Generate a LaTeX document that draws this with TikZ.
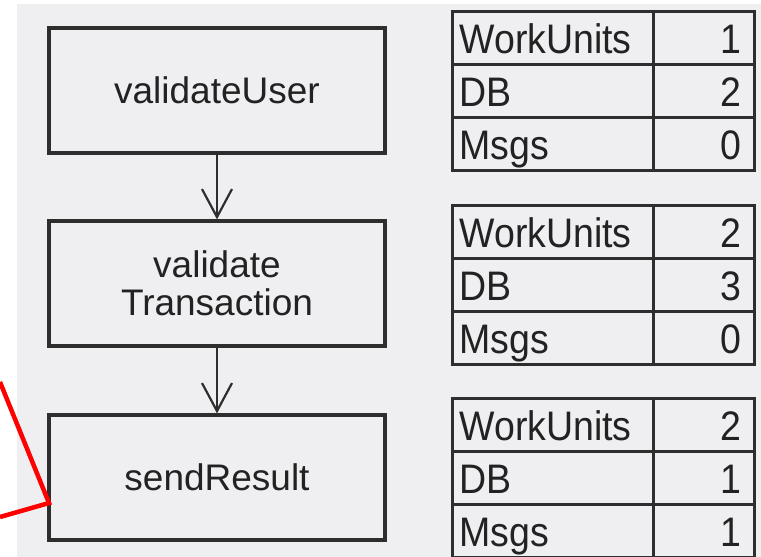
\documentclass[tikz,border=0pt]{standalone}
\usepackage{fontspec}
\setmainfont{Liberation Sans}
\usetikzlibrary{arrows.meta}
\definecolor{bg}{HTML}{EFEFF2}
\definecolor{ink}{HTML}{2E2E2E}
\definecolor{txt}{HTML}{222222}
\newcommand{\tallt}[1]{\scalebox{1}[1.1]{#1}}
\begin{document}
\begin{tikzpicture}[x=1pt,y=-1pt,
  proc/.style={draw=ink, line width=3.2pt, minimum width=336pt, minimum height=125pt,
    align=center, inner sep=0pt, text=txt, font=\fontsize{37}{38}\selectfont},
  lab/.style={draw=ink, line width=3pt, anchor=north west, inner xsep=7pt, inner ysep=0pt,
    text width=187pt, align=left, minimum height=53pt, text height=32pt, text depth=2pt,
    text=txt, font=\fontsize{37.5}{38}\selectfont},
  val/.style={draw=ink, line width=3pt, anchor=north west, inner xsep=13pt, inner ysep=0pt,
    text width=75pt, align=right, minimum height=53pt, text height=32pt, text depth=2pt,
    text=txt, font=\fontsize{37.5}{38}\selectfont},
  flow/.style={draw=ink, line width=2.2pt, -{Straight Barb[length=28pt,width=30pt]}},
  redline/.style={draw=red, line width=4.5pt, line join=miter}]
\useasboundingbox (0,0) rectangle (761,557);
\fill[white] (0,0) rectangle (761,557);
\fill[bg] (17,4) rectangle (761,557);
% process boxes
\node[proc] (v1) at (217,90.5) {validateUser};
\node[proc] (v2) at (217,283.5) {validate\\Transaction};
\node[proc] (v3) at (217,477.5) {sendResult};
\draw[flow] (v1.south) -- (v2.north);
\draw[flow] (v2.south) -- (v3.north);
% tables
\foreach \t/\y/\a/\b/\c in {1/10/1/2/0, 2/204/2/3/0, 3/397/2/1/1} {
  \node[lab] (t\t w) at (451,\y) {\tallt{WorkUnits}};
  \node[val] (t\t wv) at (652,\y) {\tallt{\a}};
  \node[lab] (t\t d) at (451,{\y+53}) {\tallt{DB}};
  \node[val] (t\t dv) at (652,{\y+53}) {\tallt{\b}};
  \node[lab] (t\t m) at (451,{\y+106}) {\tallt{Msgs}};
  \node[val] (t\t mv) at (652,{\y+106}) {\tallt{\c}};
}
% red marker
\coordinate (ra) at (0,382);
\coordinate (rb) at (49,503);
\coordinate (rc) at (0,517);
\draw[redline] (ra) -- (rb) -- (rc);
\end{tikzpicture}
\end{document}
